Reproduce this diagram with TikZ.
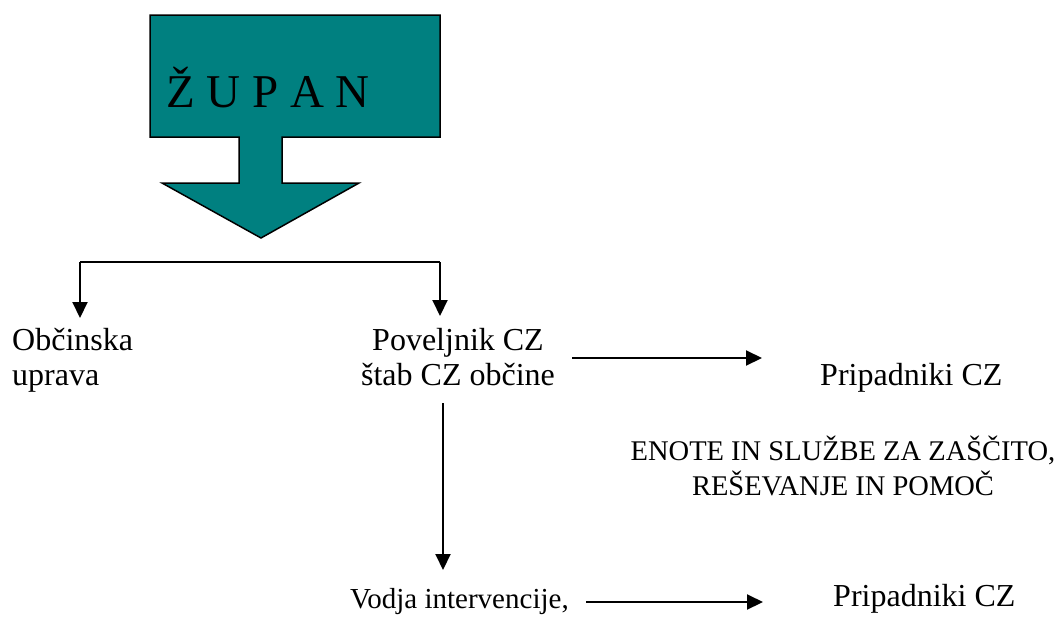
\documentclass[tikz,border=0pt]{standalone}
\usepackage{fontspec}
\setmainfont{Liberation Serif}
\usetikzlibrary{arrows.meta}
\definecolor{tealc}{HTML}{008080}
\begin{document}
\begin{tikzpicture}[x=1pt,y=-1pt,
  lbl/.style={inner sep=0pt,font=\fontsize{32}{35}\selectfont},
  small/.style={inner sep=0pt,font=\fontsize{28.5}{35}\selectfont},
  conn/.style={line width=2pt,-{Triangle[length=16pt,width=15pt]}},
  plain/.style={line width=2pt}]
\useasboundingbox (0,0) rectangle (1064,621);
% callout
\draw[fill=tealc,line width=1.5pt,line join=miter]
  (150,15) -- (440,15) -- (440,137) -- (282,137) -- (282,183) -- (359,183)
  -- (261,238) -- (162,183) -- (239,183) -- (239,137) -- (150,137) -- cycle;
\node[inner sep=0pt,anchor=base,font=\fontsize{47}{50}\selectfont] (zupan) at (268,107) {Ž U P A N};
% texts
\node[lbl,anchor=base west,align=left] (uprava) at (12,385) {Občinska\\uprava};
\node[lbl,anchor=base,align=center] (poveljnik) at (458,385) {Poveljnik CZ\\štab CZ občine};
\node[lbl,anchor=base west] (prip1) at (820,385) {Pripadniki CZ};
\node[small,anchor=base,align=center] (enote) at (843,495) {ENOTE IN SLUŽBE ZA ZAŠČITO,\\REŠEVANJE IN POMOČ};
\node[inner sep=0pt,font=\fontsize{29}{35}\selectfont,anchor=base west] (vodja) at (350,608) {Vodja intervencije,};
\node[lbl,anchor=base west] (prip2) at (833,606) {Pripadniki CZ};
% connector end points
\coordinate (uTop) at (80,318);
\coordinate (pTop) at (440,316);
\coordinate (lTurn) at (80,262);
\coordinate (rTurn) at (440,262);
\coordinate (pRight) at (572,358);
\coordinate (p1Left) at (762,358);
\coordinate (pBottom) at (443,403);
\coordinate (vTop) at (443,570);
\coordinate (vRight) at (586,602);
\coordinate (p2Left) at (763,602);
% connectors
\draw[plain] (lTurn) -- (rTurn);
\draw[conn] (lTurn) -- (uTop);
\draw[conn] (rTurn) -- (pTop);
\draw[conn] (pRight) -- (p1Left);
\draw[conn] (pBottom) -- (vTop);
\draw[conn] (vRight) -- (p2Left);
\end{tikzpicture}
\end{document}
